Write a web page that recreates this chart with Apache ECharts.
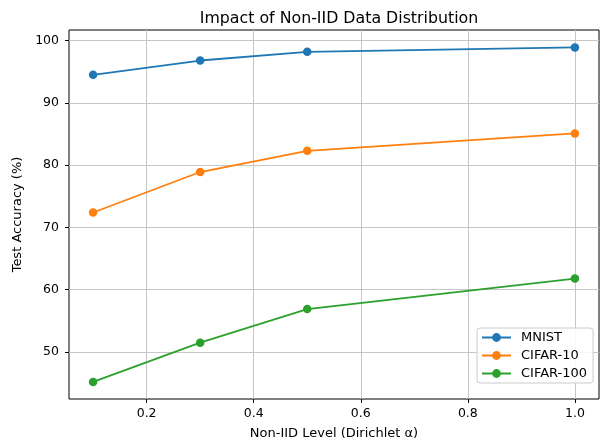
<!DOCTYPE html>
<html>
<head>
<meta charset="utf-8">
<script src="https://cdn.jsdelivr.net/npm/echarts@6/dist/echarts.min.js"></script>
<style>
html,body{margin:0;padding:0;background:#fff;}
#c{width:603px;height:443px;}
</style>
</head>
<body>
<div id="c"></div>
<script>
const alphas = [0.1, 0.3, 0.5, 1.0];
const mnist = [94.5, 96.8, 98.2, 98.9];
const cifar10 = [72.4, 78.9, 82.3, 85.1];
const cifar100 = [45.2, 51.5, 56.9, 61.8];
const xTicks = [0.2, 0.4, 0.6, 0.8, 1.0];
const yTicks = [50, 60, 70, 80, 90, 100];
const seriesNames = ['MNIST', 'CIFAR-10', 'CIFAR-100'];
const colors = ['#1f77b4', '#ff7f0e', '#2ca02c'];

const font = 'DejaVu Sans';
const chart = echarts.init(document.getElementById('c'), null, {renderer: 'canvas'});

function mk(name, vals, color) {
  return {
    name: name, type: 'line', z: 3,
    data: alphas.map((a, i) => [a, vals[i]]),
    symbol: 'circle', symbolSize: 8.5,
    lineStyle: {color: color, width: 1.8},
    itemStyle: {color: color},
    emphasis: {disabled: true}
  };
}

chart.setOption({
  animation: false,
  backgroundColor: '#fff',
  title: {
    text: 'Impact of Non-IID Data Distribution',
    left: 334, top: 6, textAlign: 'center',
    textStyle: {fontFamily: font, fontSize: 15.8, fontWeight: 'normal', color: '#000'}
  },
  grid: {
    left: 69, right: 4, top: 30, bottom: 44,
    outerBoundsMode: 'none', containLabel: false,
    show: true, borderColor: '#000', borderWidth: 1, backgroundColor: '#fff'
  },
  legend: {
    z: 20,
    orient: 'vertical', left: 477, top: 328,
    data: seriesNames,
    backgroundColor: 'rgba(255,255,255,0.85)', borderColor: '#cccccc', borderWidth: 1, borderRadius: 3,
    padding: [3, 6, 3, 4],
    itemWidth: 29, itemHeight: 11, itemGap: 5,
    textStyle: {fontFamily: font, fontSize: 13, color: '#000', padding: [0, 0, 0, 5]}
  },
  xAxis: {
    type: 'value', min: 0.055, max: 1.045,
    name: 'Non-IID Level (Dirichlet α)', nameLocation: 'middle', nameGap: 28,
    nameTextStyle: {fontFamily: font, fontSize: 13, color: '#000'},
    axisLine: {show: false},
    axisTick: {show: true, inside: false, length: 4, customValues: xTicks, lineStyle: {color: '#000'}},
    axisLabel: {customValues: xTicks, margin: 8, fontFamily: font, fontSize: 12.5, color: '#000',
      formatter: v => v.toFixed(1)},
    splitLine: {show: false}
  },
  yAxis: {
    type: 'value', min: 42.46, max: 101.7,
    name: 'Test Accuracy (%)', nameLocation: 'middle', nameGap: 42,
    nameTextStyle: {fontFamily: font, fontSize: 13, color: '#000'},
    axisLine: {show: false},
    axisTick: {show: true, inside: false, length: 4, customValues: yTicks, lineStyle: {color: '#000'}},
    axisLabel: {customValues: yTicks, margin: 10, fontFamily: font, fontSize: 12.5, color: '#000'},
    splitLine: {show: false}
  },
  series: [
    {
      name: 'grid', type: 'line', data: [], z: 1, silent: true,
      markLine: {
        z: 1,
        silent: true, symbol: ['none', 'none'], label: {show: false},
        lineStyle: {color: '#c6c6c6', width: 1, type: 'solid'},
        emphasis: {disabled: true},
        data: xTicks.map(v => ({xAxis: v})).concat(yTicks.map(v => ({yAxis: v})))
      }
    },
    mk(seriesNames[0], mnist, colors[0]),
    mk(seriesNames[1], cifar10, colors[1]),
    mk(seriesNames[2], cifar100, colors[2])
  ]
});
</script>
</body>
</html>
